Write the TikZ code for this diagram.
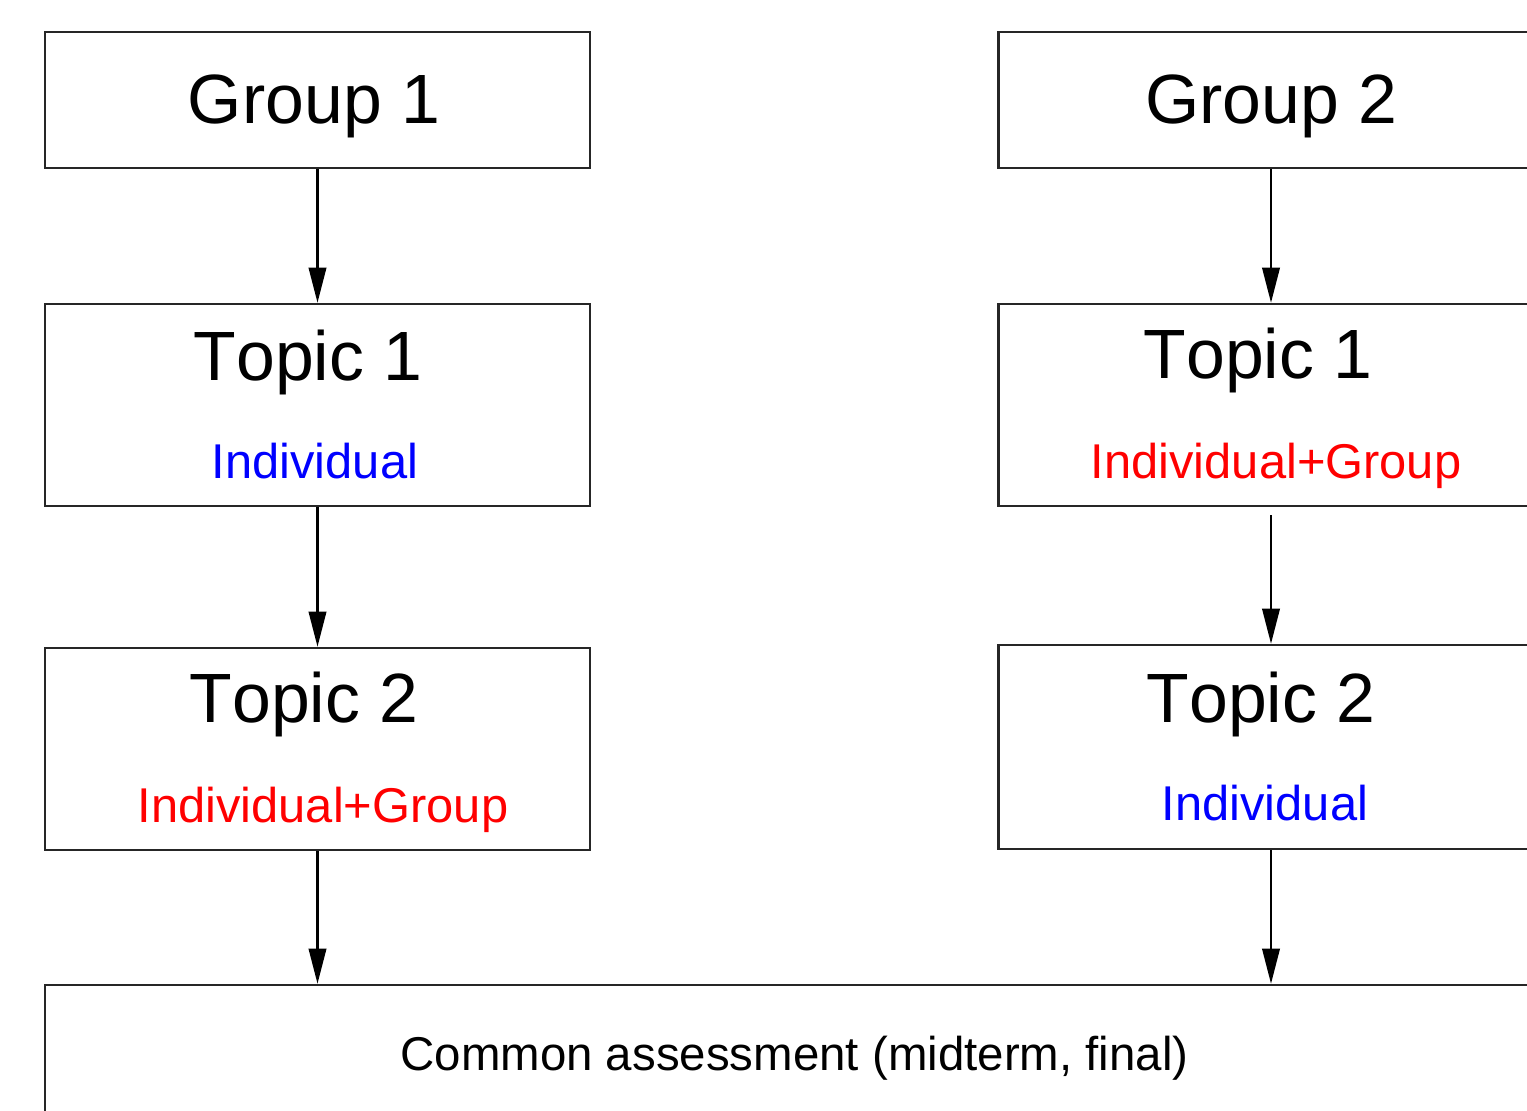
\documentclass[tikz,border=0pt]{standalone}
\usepackage{fontspec}
\setmainfont[Kerning=Off]{Liberation Sans}
\usetikzlibrary{arrows.meta,positioning}
\tikzstyle{box}=[rectangle,draw=black!85,line width=1.5pt,inner sep=0pt,minimum width=10.9cm]
\tikzstyle{head}=[anchor=base,inner sep=0pt,font=\fontsize{39.7}{44}\selectfont]
\tikzstyle{mode}=[anchor=base,inner sep=0pt,font=\fontsize{27.8}{32}\selectfont]
\colorlet{indiv}{blue}
\colorlet{both}{red}

\begin{document}
\begin{tikzpicture}[x=0.02cm, y=-0.02cm, >={Triangle[length=20pt,width=10pt]}]
    \useasboundingbox (0,0) rectangle (1527,1110);
    \clip (0,0) rectangle (1527,1110);

    % left column
    \node[box,minimum height=2.72cm](grpone) at (317.5,100) {};
    \node[head](grponetxt) at (314,123) {Group 1};
    \node[box,minimum height=4.04cm](onetopone) at (317.5,405) {};
    \node[head](onetoponetxt) at (308,380) {Topic 1};
    \node[mode,text=indiv](onetoponemode) at (315,478) {Individual};
    \node[box,minimum height=4.04cm](onetoptwo) at (317.5,749) {};
    \node[head](onetoptwotxt) at (304,722) {Topic 2};
    \node[mode,text=both](onetoptwomode) at (323,822) {Individual+Group};

    % right column
    \node[box,minimum height=2.72cm](grptwo) at (1271,100) {};
    \node[head](grptwotxt) at (1271,123) {Group 2};
    \node[box,minimum height=4.04cm](twotopone) at (1271,405) {};
    \node[head](twotoponetxt) at (1258,378) {Topic 1};
    \node[mode,text=both](twotoponemode) at (1276,478) {Individual+Group};
    \node[box,minimum height=4.08cm](twotoptwo) at (1271,747) {};
    \node[head](twotoptwotxt) at (1261,722) {Topic 2};
    \node[mode,text=indiv](twotoptwomode) at (1265,820) {Individual};

    % common box
    \node[box,minimum width=29.98cm,minimum height=2.76cm](common) at (794.5,1054) {};
    \node[mode,font=\fontsize{27}{32}\selectfont](commontxt) at (794.5,1070) {Common assessment (midterm, final)};

    \draw[->,line width=1.2pt] (grpone) -- (onetopone);
    \draw[->,line width=1.2pt] (onetopone) -- (onetoptwo);
    \draw[->,line width=1.2pt] (onetoptwo) -- (onetoptwo.south |- common.north);
    \draw[->,line width=1.2pt] (grptwo) -- (twotopone);
    \draw[->,line width=1.2pt,shorten <=4.5pt] (twotopone) -- (twotoptwo);
    \draw[->,line width=1.2pt] (twotoptwo) -- (twotoptwo.south |- common.north);
\end{tikzpicture}
\end{document}
